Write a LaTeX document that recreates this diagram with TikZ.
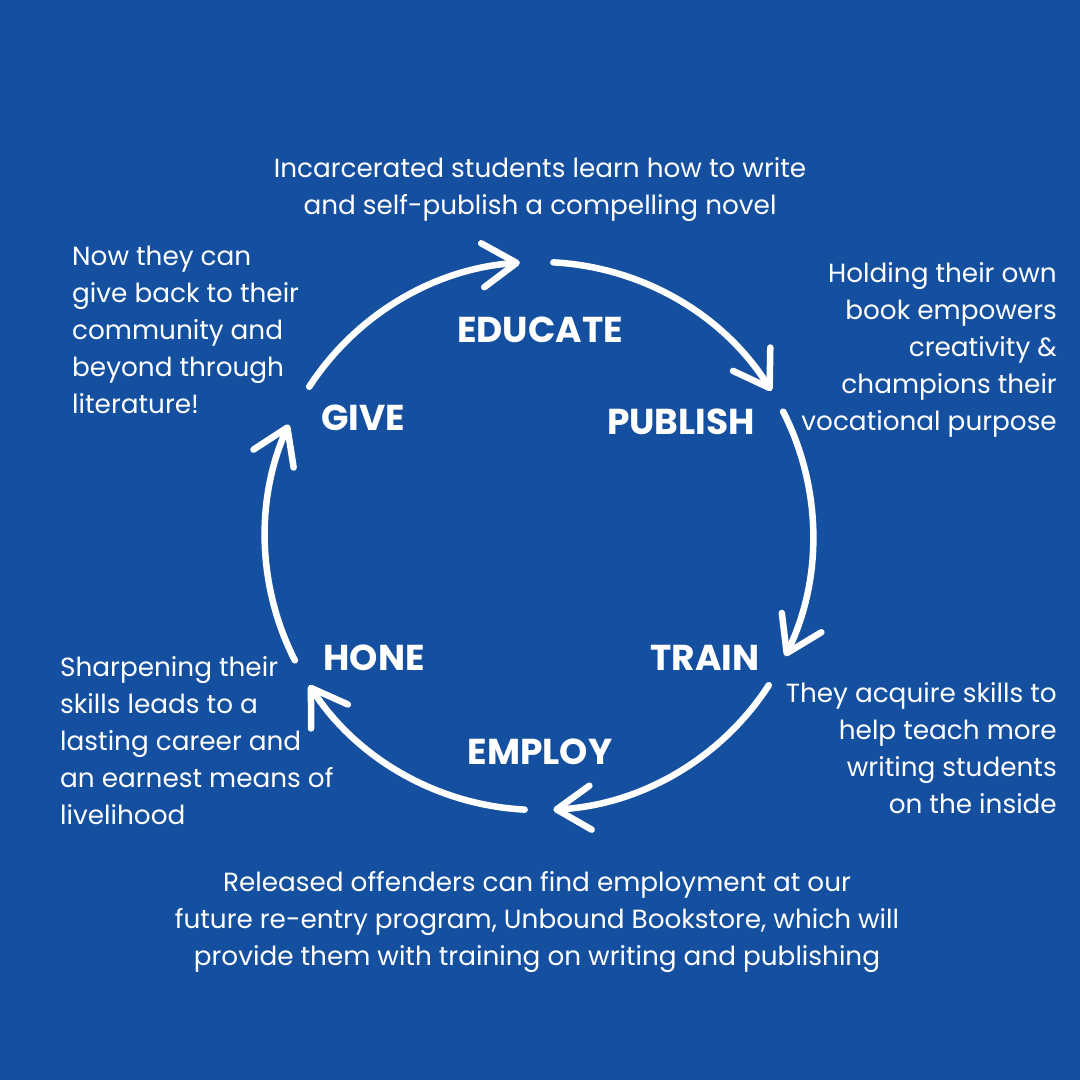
\documentclass[tikz,border=0pt]{standalone}
\usepackage{fontspec}
\setmainfont{Poppins}
\usetikzlibrary{arrows.meta, positioning}
\definecolor{bgblue}{RGB}{21,80,160}
\begin{document}
\begin{tikzpicture}[x=1pt, y=1pt,
    >={Straight Barb[length=34pt, width=44pt, round]},
    phase/.style={text=white, font=\fontsize{36}{42}\selectfont\bfseries, inner sep=0pt},
    desc/.style={text=white, font=\fontsize{26.3}{37}\selectfont, inner sep=0pt},
    cyc/.style={->, draw=white, line width=6.5pt, line cap=round}]
  \fill[bgblue] (0,0) rectangle (1080,1080);
  \useasboundingbox (0,0) rectangle (1080,1080);
  \node[phase] (educate) at (540,750) {EDUCATE};
  \node[phase] (publish) at (681,658) {PUBLISH};
  \node[phase] (train) at (705,422) {TRAIN};
  \node[phase] (employ) at (540,328) {EMPLOY};
  \node[phase] (hone) at (374,422) {HONE};
  \node[phase] (give) at (363,662) {GIVE};
  \node[desc, anchor=north, align=center] (educatetxt) at (540,923)
    {Incarcerated students learn how to write\\and self-publish a compelling novel};
  \node[desc, anchor=north east, align=right] (publishtxt) at (1057,818)
    {Holding their own\\book empowers\\creativity \&\\champions their\\vocational purpose};
  \node[desc, anchor=north east, align=right] (traintxt) at (1057,398)
    {They acquire skills to\\help teach more\\writing students\\on the inside};
  \node[desc, anchor=north, align=center] (employtxt) at (537,209)
    {Released offenders can find employment at our\\future re-entry program, Unbound Bookstore, which will\\provide them with training on writing and publishing};
  \node[desc, anchor=north west, align=left] (honetxt) at (60,424)
    {Sharpening their\\skills leads to a\\lasting career and\\an earnest means of\\livelihood};
  \node[desc, anchor=north west, align=left] (givetxt) at (72,834)
    {Now they can\\give back to their\\community and\\beyond through\\literature!};
  \coordinate (ctr) at (539,544);
  \coordinate (giveout) at ([shift={(147:274pt)}]ctr);
  \coordinate (educateout) at ([shift={(87:274pt)}]ctr);
  \coordinate (publishout) at ([shift={(27:274pt)}]ctr);
  \coordinate (trainout) at ([shift={(-33:274pt)}]ctr);
  \coordinate (employout) at ([shift={(-93:274pt)}]ctr);
  \coordinate (honeout) at ([shift={(-153:274pt)}]ctr);
  \draw[cyc] (giveout) arc[start angle=147, end angle=94, radius=274pt];
  \draw[cyc] (educateout) arc[start angle=87, end angle=32, radius=274pt];
  \draw[cyc] (publishout) arc[start angle=27, end angle=-26, radius=274pt];
  \draw[cyc] (trainout) arc[start angle=-33, end angle=-87, radius=274pt];
  \draw[cyc] (employout) arc[start angle=-93, end angle=-147, radius=274pt];
  \draw[cyc] (honeout) arc[start angle=-153, end angle=-204, radius=274pt];
\end{tikzpicture}
\end{document}
